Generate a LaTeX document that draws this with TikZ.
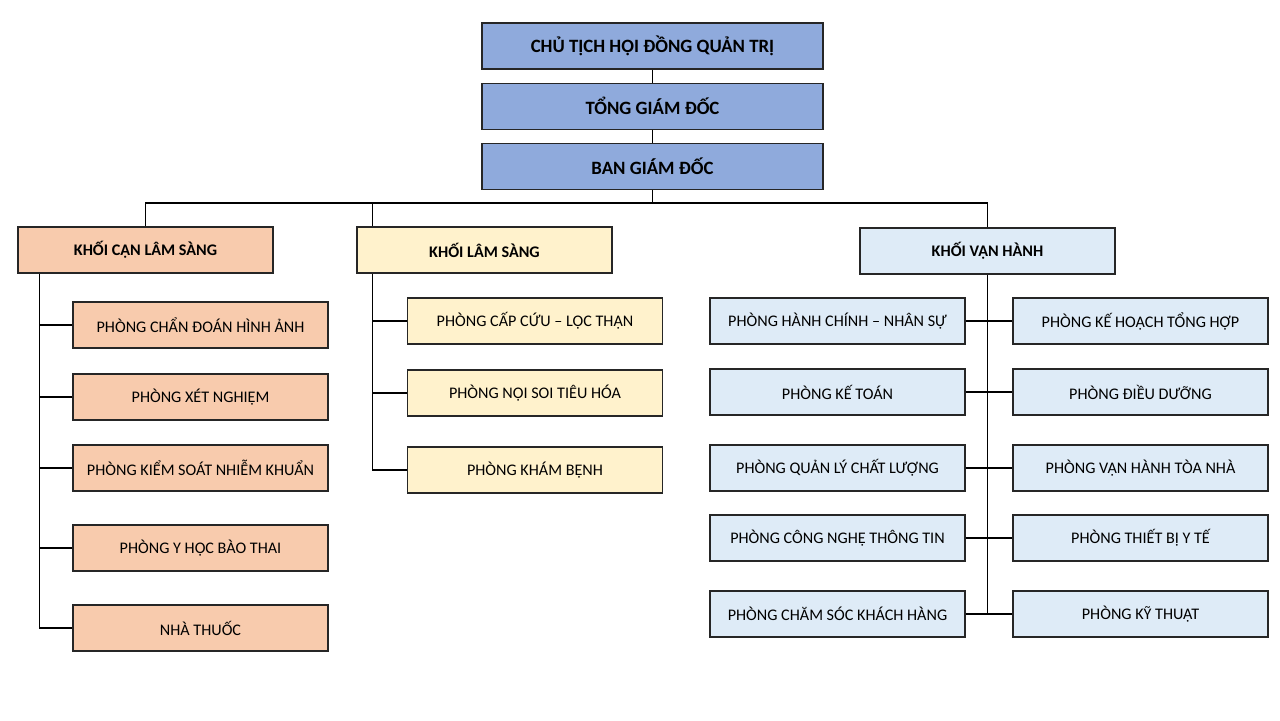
\documentclass[tikz,border=0pt]{standalone}
\usepackage{fontspec}
\setmainfont{Carlito}
\usetikzlibrary{positioning,calc}
\definecolor{xanhDam}{RGB}{143,170,220}
\definecolor{camNhat}{RGB}{248,203,173}
\definecolor{vangNhat}{RGB}{255,242,204}
\definecolor{xanhNhat}{RGB}{222,235,247}
\colorlet{vien}{black!85}

\begin{document}
\begin{tikzpicture}[x=0.02cm,y=-0.02cm,
        topbox/.style={draw=vien,line width=0.7pt,fill=xanhDam,minimum width=6.82cm,minimum height=0.92cm,inner sep=0pt,font=\fontsize{10.7}{12}\selectfont\bfseries},
        khoi/.style={draw=vien,line width=0.7pt,minimum width=5.1cm,minimum height=0.92cm,inner sep=0pt,font=\fontsize{9.2}{10}\selectfont\bfseries},
        phong/.style={draw=vien,line width=0.7pt,minimum width=5.1cm,minimum height=0.92cm,inner sep=0pt,font=\fontsize{9.2}{10}\selectfont},
        link/.style={draw=black,line width=0.6pt}
      ]
        \useasboundingbox[fill=white] (0,0) rectangle (1280,720);
        % ban lanh dao
        \node[topbox] (ct) at (652.5,46) {CHỦ TỊCH HỘI ĐỒNG QUẢN TRỊ};
        \node[topbox,below=0.26cm of ct] (tgd) {TỔNG GIÁM ĐỐC};
        \node[topbox,below=0.26cm of tgd] (bgd) {BAN GIÁM ĐỐC};
        % ba khoi
        \node[khoi,fill=camNhat] (kcls) at (145.5,250) {KHỐI CẬN LÂM SÀNG};
        \node[khoi,fill=vangNhat] (kls) at (484.5,250) {KHỐI LÂM SÀNG};
        \node[khoi,fill=xanhNhat] (kvh) at (987.5,251) {KHỐI VẬN HÀNH};
        % khoi can lam sang
        \node[phong,fill=camNhat] (cls1) at (200.5,325) {PHÒNG CHẨN ĐOÁN HÌNH ẢNH};
        \node[phong,fill=camNhat] (cls2) at (200.5,397) {PHÒNG XÉT NGHIỆM};
        \node[phong,fill=camNhat] (cls3) at (200.5,468) {PHÒNG KIỂM SOÁT NHIỄM KHUẨN};
        \node[phong,fill=camNhat] (cls4) at (200.5,548) {PHÒNG Y HỌC BÀO THAI};
        \node[phong,fill=camNhat] (cls5) at (200.5,628) {NHÀ THUỐC};
        % khoi lam sang
        \node[phong,fill=vangNhat] (ls1) at (535,321) {PHÒNG CẤP CỨU – LỌC THẬN};
        \node[phong,fill=vangNhat] (ls2) at (535,393) {PHÒNG NỘI SOI TIÊU HÓA};
        \node[phong,fill=vangNhat] (ls3) at (535,470) {PHÒNG KHÁM BỆNH};
        % khoi van hanh
        \node[phong,fill=xanhNhat] (vh1l) at (837.5,321) {PHÒNG HÀNH CHÍNH – NHÂN SỰ};
        \node[phong,fill=xanhNhat] (vh2l) at (837.5,392) {PHÒNG KẾ TOÁN};
        \node[phong,fill=xanhNhat] (vh3l) at (837.5,468) {PHÒNG QUẢN LÝ CHẤT LƯỢNG};
        \node[phong,fill=xanhNhat] (vh4l) at (837.5,538) {PHÒNG CÔNG NGHỆ THÔNG TIN};
        \node[phong,fill=xanhNhat] (vh5l) at (837.5,614) {PHÒNG CHĂM SÓC KHÁCH HÀNG};
        \node[phong,fill=xanhNhat] (vh1r) at (1140.5,321) {PHÒNG KẾ HOẠCH TỔNG HỢP};
        \node[phong,fill=xanhNhat] (vh2r) at (1140.5,392) {PHÒNG ĐIỀU DƯỠNG};
        \node[phong,fill=xanhNhat] (vh3r) at (1140.5,468) {PHÒNG VẬN HÀNH TÒA NHÀ};
        \node[phong,fill=xanhNhat] (vh4r) at (1140.5,538) {PHÒNG THIẾT BỊ Y TẾ};
        \node[phong,fill=xanhNhat] (vh5r) at (1140.5,614) {PHÒNG KỸ THUẬT};
        % duong noi
        \coordinate (bus) at (652.5,203);
        \coordinate (sp1) at ($(kcls.south west)+(22,0)$);
        \coordinate (sp2) at ($(kls.south west)+(16,0)$);
        \draw[link] (ct) -- (tgd);
        \draw[link] (tgd) -- (bgd);
        \draw[link] (bgd) -- (bus);
        \draw[link] (kcls.north) |- (bus) -| (kvh.north);
        \draw[link] ($(kls.north west)+(16,0)$) -- (sp2 |- bus);
        \draw[link] (sp1) |- (cls5.west);
        \draw[link] (cls1.west) -- (cls1.west -| sp1);
        \draw[link] (cls2.west) -- (cls2.west -| sp1);
        \draw[link] (cls3.west) -- (cls3.west -| sp1);
        \draw[link] (cls4.west) -- (cls4.west -| sp1);
        \draw[link] (sp2) |- (ls3.west);
        \draw[link] (ls1.west) -- (ls1.west -| sp2);
        \draw[link] (ls2.west) -- (ls2.west -| sp2);
        \draw[link] (kvh.south) -- (kvh.south |- vh5l.east);
        \draw[link] (vh1l) -- (vh1r);
        \draw[link] (vh2l) -- (vh2r);
        \draw[link] (vh3l) -- (vh3r);
        \draw[link] (vh4l) -- (vh4r);
        \draw[link] (vh5l) -- (vh5r);
      \end{tikzpicture}
\end{document}
